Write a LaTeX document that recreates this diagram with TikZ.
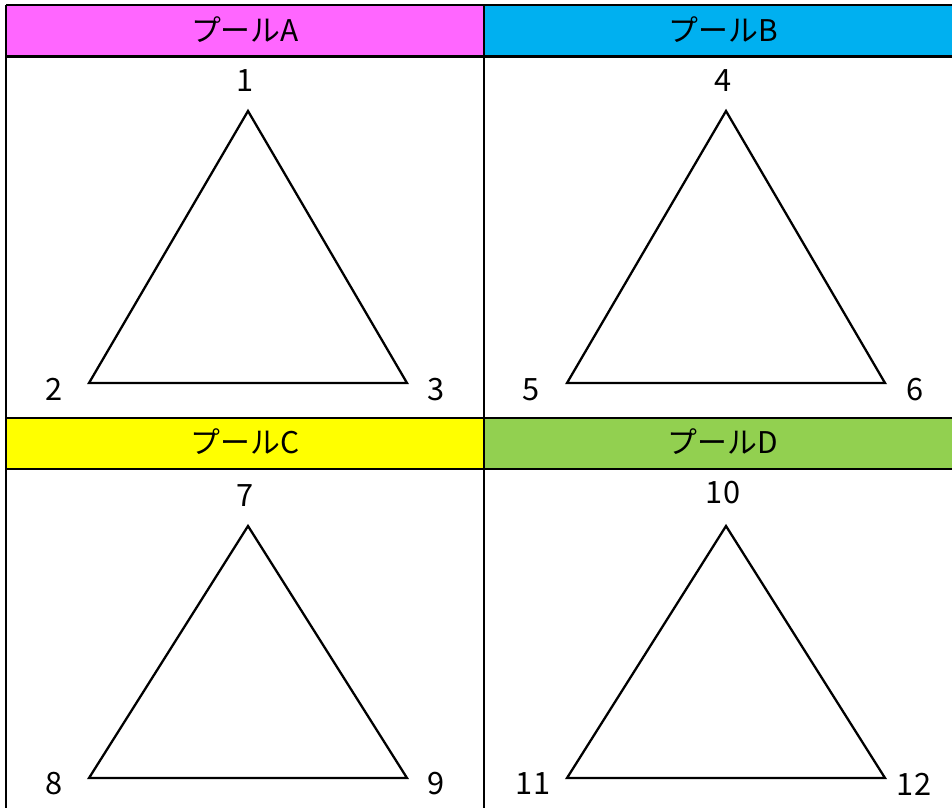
\documentclass[tikz,border=0pt]{standalone}
\usepackage{fontspec}
\setmainfont{Noto Sans CJK JP}
\usepackage{xcolor}
\usetikzlibrary{positioning}

\definecolor{poolA}{HTML}{FF66FF}
\definecolor{poolB}{HTML}{00B0F0}
\definecolor{poolC}{HTML}{FFFF00}
\definecolor{poolD}{HTML}{92D050}

\tikzset{
  grid line/.style={line width=1.6pt},
  tri line/.style={line width=1.3pt, line join=miter},
  pool head/.style={font=\fontsize{17pt}{20pt}\selectfont, inner sep=0pt},
  vertex num/.style={font=\fontsize{17.5pt}{20pt}\selectfont, inner sep=0pt}
}

\begin{document}
\begin{tikzpicture}[x=0.02cm, y=-0.02cm]
    \useasboundingbox (0,0) rectangle (952,808);

    % Header cells
    \fill[poolA] (6,5) rectangle (484,56.5); \fill[poolB] (484,5) rectangle (952,56.5);
    \fill[poolC] (6,418) rectangle (484,469); \fill[poolD] (484,418) rectangle (952,469);

    % Grid
    \draw[grid line] (6,5) -- (952,5);
    \draw[grid line] (6,56.5) -- (952,56.5);
    \draw[grid line] (6,418) -- (952,418);
    \draw[grid line] (6,469) -- (952,469);
    \draw[grid line] (6,5) -- (6,808);
    \draw[grid line] (484,5) -- (484,808);

    % Titles
    \node[pool head] (headA) at (245,30) {プールA};
    \node[pool head] (headB) at (723,30) {プールB};
    \node[pool head] (headC) at (245,442) {プールC};
    \node[pool head] (headD) at (723,442) {プールD};

    % Triangles
    \draw[tri line] (248,111) -- (89,383) -- (407,383) -- cycle;
    \draw[tri line] (726,111) -- (567,383) -- (885,383) -- cycle;
    \draw[tri line] (248,526) -- (89,778) -- (407,778) -- cycle;
    \draw[tri line] (726,526) -- (567,778) -- (885,778) -- cycle;

    % Vertex numbers
    \node[vertex num] (n1) at (245,80.5) {1};
    \node[vertex num] (n2) at (54,389) {2};
    \node[vertex num] (n3) at (436,389.5) {3};
    \node[vertex num] (n4) at (723,80.5) {4};
    \node[vertex num] (n5) at (531.5,389.5) {5};
    \node[vertex num] (n6) at (915,389.5) {6};
    \node[vertex num] (n7) at (245,496) {7};
    \node[vertex num] (n8) at (54,784) {8};
    \node[vertex num] (n9) at (436,784) {9};
    \node[vertex num] (n10) at (723,492.5) {10};
    \node[vertex num] (n11) at (533,784) {11};
    \node[vertex num] (n12) at (914,784) {12};
\end{tikzpicture}
\end{document}
